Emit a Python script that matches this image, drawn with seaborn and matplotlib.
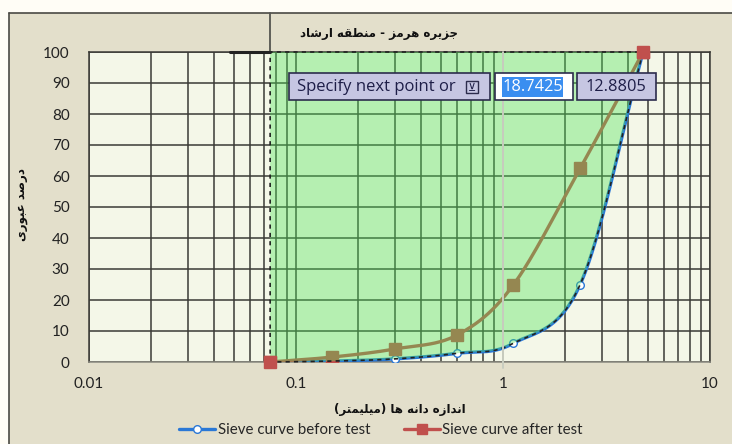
import numpy as np
import pandas as pd
import matplotlib
matplotlib.use("Agg")
import matplotlib.pyplot as plt
import matplotlib.patches as mpatches
from matplotlib.lines import Line2D
import seaborn as sns

# ---- data -------------------------------------------------------------
sieve_mm = [0.075, 0.15, 0.3, 0.6, 1.12, 2.36, 4.75]
passing_before = [0.0, 0.3, 1.0, 2.8, 6.0, 25.0, 100.0]
passing_after = [0.0, 1.6, 4.2, 8.7, 24.8, 62.5, 100.0]
series_names = ["Sieve curve before test", "Sieve curve after test"]
x_ticks = [0.01, 0.1, 1, 10]
x_tick_labels = ["0.01", "0.1", "1", "10"]
y_ticks = list(range(0, 101, 10))

title_fa = "جزیره هرمز - منطقه ارشاد"
xlabel_fa = "اندازه دانه ها (میلیمتر)"
ylabel_fa = "درصد عبوری"

prompt_text = "Specify next point or"
coord_a = "18.7425"
coord_b = "12.8805"

# ---- Persian shaping (presentation forms, visual order) --------------
FORMS = {
    'ا': ('\uFE8D', '\uFE8E', None, None),
    'ب': ('\uFE8F', '\uFE90', '\uFE91', '\uFE92'),
    'ت': ('\uFE95', '\uFE96', '\uFE97', '\uFE98'),
    'ج': ('\uFE9D', '\uFE9E', '\uFE9F', '\uFEA0'),
    'د': ('\uFEA9', '\uFEAA', None, None),
    'ر': ('\uFEAD', '\uFEAE', None, None),
    'ز': ('\uFEAF', '\uFEB0', None, None),
    'ش': ('\uFEB5', '\uFEB6', '\uFEB7', '\uFEB8'),
    'ص': ('\uFEB9', '\uFEBA', '\uFEBB', '\uFEBC'),
    'ط': ('\uFEC1', '\uFEC2', '\uFEC3', '\uFEC4'),
    'ع': ('\uFEC9', '\uFECA', '\uFECB', '\uFECC'),
    'ق': ('\uFED5', '\uFED6', '\uFED7', '\uFED8'),
    'ل': ('\uFEDD', '\uFEDE', '\uFEDF', '\uFEE0'),
    'م': ('\uFEE1', '\uFEE2', '\uFEE3', '\uFEE4'),
    'ن': ('\uFEE5', '\uFEE6', '\uFEE7', '\uFEE8'),
    'ه': ('\uFEE9', '\uFEEA', '\uFEEB', '\uFEEC'),
    'و': ('\uFEED', '\uFEEE', None, None),
    'ی': ('\uFEEF', '\uFEF0', '\uFEF3', '\uFEF4'),
}
MIRROR = {'(': ')', ')': '('}


def persian(text):
    out = []
    n = len(text)
    for i, ch in enumerate(text):
        if ch not in FORMS:
            out.append(ch)
            continue
        prev = text[i - 1] if i > 0 else ''
        nxt = text[i + 1] if i < n - 1 else ''
        joined_prev = prev in FORMS and FORMS[prev][2] is not None
        joins_next = FORMS[ch][2] is not None and nxt in FORMS
        iso, fin, ini, med = FORMS[ch]
        if joined_prev and joins_next:
            out.append(med)
        elif joined_prev:
            out.append(fin)
        elif joins_next:
            out.append(ini)
        else:
            out.append(iso)
    return ''.join(MIRROR.get(c, c) for c in reversed(out))


# ---- smooth line through the points (Catmull-Rom in log-x space) -----
def smooth(xs, ys, steps=40):
    lx = np.log10(np.asarray(xs, float))
    yy = np.asarray(ys, float)
    P = np.column_stack([lx, yy])
    P = np.vstack([P[0] - (P[1] - P[0]), P, P[-1] + (P[-1] - P[-2])])
    pts = []
    for i in range(1, len(P) - 2):
        p0, p1, p2, p3 = P[i - 1], P[i], P[i + 1], P[i + 2]
        c1 = p1 + (p2 - p0) / 6.0
        c2 = p2 - (p3 - p1) / 6.0
        t = np.linspace(0, 1, steps)[:, None]
        seg = ((1 - t) ** 3) * p1 + 3 * ((1 - t) ** 2) * t * c1 + \
            3 * (1 - t) * t ** 2 * c2 + t ** 3 * p2
        pts.append(seg if i == 1 else seg[1:])
    pts = np.vstack(pts)
    return 10 ** pts[:, 0], pts[:, 1]


# ---- figure -----------------------------------------------------------
sns.set_theme(style="white")
plt.rcParams['font.family'] = ['Lato', 'DejaVu Sans']

W, H = 732, 444
fig = plt.figure(figsize=(W / 100, H / 100), dpi=100)
fig.patch.set_facecolor('#fffdf6')


def fx(x):
    return x / W


def fy(y):
    return 1 - y / H


# chart area with its top/left frame
fig.add_artist(mpatches.Rectangle((fx(9), 0), 1 - fx(9), fy(13), transform=fig.transFigure,
                                  facecolor='#e3dfcb', edgecolor='none', zorder=0))
fig.add_artist(Line2D([fx(9), 1], [fy(13), fy(13)], transform=fig.transFigure,
                      color='#4a4a44', lw=1.2, zorder=1))
fig.add_artist(Line2D([fx(9), fx(9)], [0, fy(13)], transform=fig.transFigure,
                      color='#4a4a44', lw=1.2, zorder=1))

ax = fig.add_axes([fx(89), fy(362), fx(710) - fx(89), fy(52) - fy(362)])
ax.set_facecolor('#f4f7e8')
ax.set_xscale('log')
ax.set_xlim(0.01, 10)
ax.set_ylim(0, 100)

# grid
ax.set_xticks(x_ticks)
ax.set_xticklabels(x_tick_labels)
ax.set_yticks(y_ticks)
ax.xaxis.set_minor_locator(matplotlib.ticker.LogLocator(base=10, subs=np.arange(2, 10)))
ax.xaxis.set_minor_formatter(matplotlib.ticker.NullFormatter())
ax.grid(True, which='both', axis='x', color='#3a3a36', lw=1.1, zorder=1)
ax.grid(True, which='major', axis='y', color='#3a3a36', lw=1.1, zorder=1)
ax.set_axisbelow(True)
for s in ax.spines.values():
    s.set_color('#3a3a36')
    s.set_linewidth(1.1)
ax.spines['bottom'].set_color('#8a8a80')
ax.tick_params(axis='x', which='major', length=5, color='#8a8a80', width=1,
               labelsize=11, pad=6, labelcolor='#222222')
ax.tick_params(axis='x', which='minor', length=0)
ax.tick_params(axis='y', length=0, labelsize=11, pad=14, labelcolor='#222222')

# series
bx, by = smooth(sieve_mm, passing_before)
axx, ayy = smooth(sieve_mm, passing_after)
df_before = pd.DataFrame({'x': bx, 'y': by})
df_after = pd.DataFrame({'x': axx, 'y': ayy})

blue = '#2a78d6'
red = '#c0504d'
sns.lineplot(data=df_before, x='x', y='y', ax=ax, color=blue, lw=2.4, zorder=3,
             sort=False, estimator=None)
ax.plot(sieve_mm, passing_before, ls='none', marker='o', ms=5.5, mfc='white',
        mec=blue, mew=1, zorder=4)
sns.lineplot(data=df_after, x='x', y='y', ax=ax, color=red, lw=2.4, zorder=3,
             sort=False, estimator=None)
ax.plot(sieve_mm, passing_after, ls='none', marker='s', ms=8, mfc=red, mec=red,
        zorder=4)

# hatched region between the sieve limit, 100 % and the before-test curve
poly_x = np.concatenate([[sieve_mm[0], sieve_mm[0], sieve_mm[-1]], bx[::-1]])
poly_y = np.concatenate([[0, 100, 100], by[::-1]])
ax.fill(poly_x, poly_y, color='#4fe358', alpha=0.38, lw=0, zorder=5)
ax.plot(poly_x, poly_y, color='#222222', lw=1.2, ls=(0, (2.5, 2.5)), zorder=6,
        clip_on=False)
ax.plot([sieve_mm[0], sieve_mm[-1]], [passing_after[0], passing_after[-1]], ls='none',
        marker='s', ms=8, mfc=red, mec=red, zorder=7, clip_on=False)

# light crosshair line through 1 mm
ax.plot([1, 1], [-1.8, 100], color='#c9cdc0', lw=1.4, zorder=6, clip_on=False)

ax.set_xlabel('')
ax.set_ylabel('')

# crosshair at the pick point
fig.add_artist(Line2D([fx(270), fx(270)], [fy(13), fy(52)], transform=fig.transFigure,
                      color='#555550', lw=1.3, zorder=10))
fig.add_artist(Line2D([fx(230), fx(270)], [fy(52), fy(52)], transform=fig.transFigure,
                      color='#222222', lw=2.2, zorder=10))

# titles
fa = ['DejaVu Sans']
fig.text(fx(379), fy(33), persian(title_fa), ha='center', va='center', fontsize=8.5,
         fontweight='bold', family=fa, color='#111111')
fig.text(fx(400), fy(409), persian(xlabel_fa), ha='center', va='center', fontsize=8.5,
         fontweight='bold', family=fa, color='#111111')
fig.text(fx(22), fy(205), persian(ylabel_fa), ha='center', va='center', fontsize=8.5,
         fontweight='bold', family=fa, rotation=90, color='#111111')

# legend
handles = [Line2D([], [], color=blue, lw=2.4, marker='o', ms=5.5, mfc='white', mec=blue),
           Line2D([], [], color=red, lw=2.4, marker='s', ms=7, mfc=red, mec=red)]
fig.legend(handles, series_names, loc='center', bbox_to_anchor=(fx(381), fy(430)),
           ncol=2, frameon=False, fontsize=10.8, handlelength=2.4, columnspacing=2.2,
           handletextpad=0.2, borderaxespad=0)

# command prompt boxes
tip = ['Open Sans', 'DejaVu Sans']


def box(x0, x1, y0, y1, fc, ec='#2c2c4c', lw=1.2, z=20):
    fig.add_artist(mpatches.Rectangle((fx(x0), fy(y1)), fx(x1) - fx(x0), fy(y0) - fy(y1),
                                      transform=fig.transFigure, facecolor=fc,
                                      edgecolor=ec, lw=lw, zorder=z))


box(289, 490, 73, 100, '#c6c6e2')
fig.text(fx(297), fy(87), prompt_text, ha='left', va='center', fontsize=12,
         family=tip, color='#1e1e48', zorder=21)
box(466, 478, 81, 93, '#c6c6e2', ec='#2c2c4c', lw=1.0, z=21)
fig.text(fx(472), fy(87.5), '⊻', ha='center', va='center', fontsize=8,
         family=['DejaVu Sans'], color='#1e1e48', zorder=22)
box(495, 573, 73, 100, '#ffffff')
box(502, 563, 77, 97, '#3a8ef0', ec='none', lw=0, z=21)
fig.text(fx(532.5), fy(87), coord_a, ha='center', va='center', fontsize=11.8,
         family=tip, color='white', zorder=22)
box(577, 656, 73, 100, '#c6c6e2')
fig.text(fx(616), fy(87), coord_b, ha='center', va='center', fontsize=11.8,
         family=tip, color='#1e1e48', zorder=21)

fig.savefig('out.png', dpi=100, facecolor=fig.get_facecolor())
